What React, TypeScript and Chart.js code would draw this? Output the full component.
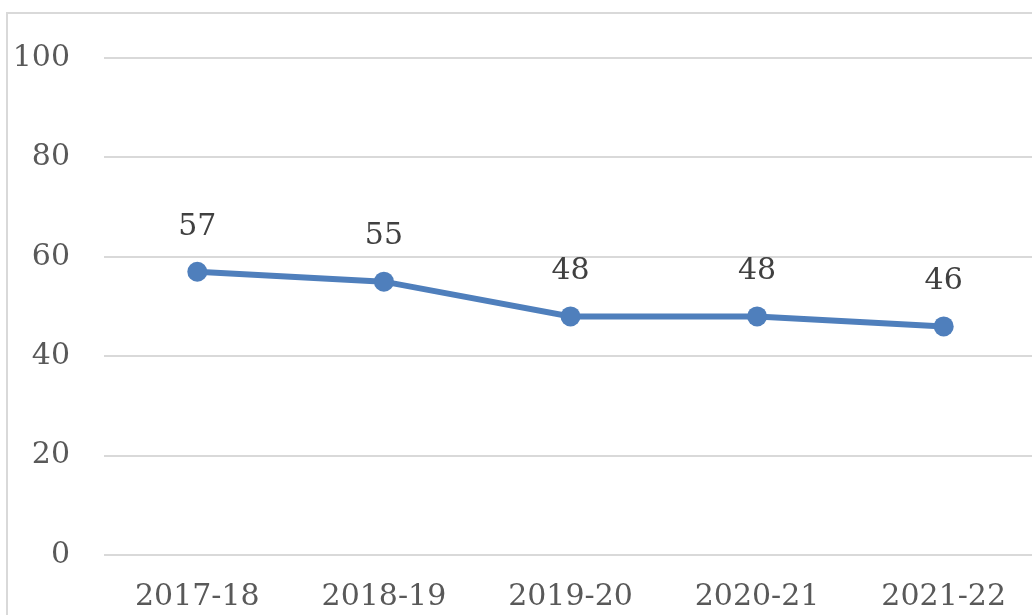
import React, { useEffect, useRef } from "react";
import { Chart, registerables } from "chart.js";

Chart.register(...registerables);

const categories = ["2017-18", "2018-19", "2019-20", "2020-21", "2021-22"];
const values = [57, 55, 48, 48, 46];
const yTicks = [0, 20, 40, 60, 80, 100];

const FONT = "'DejaVu Serif', serif";

const labelPlugin = {
  id: "valueLabels",
  afterDatasetsDraw(chart: any) {
    const ctx = chart.ctx;
    const meta = chart.getDatasetMeta(0);
    ctx.save();
    ctx.font = `30px ${FONT}`;
    ctx.fillStyle = "#404040";
    ctx.textAlign = "center";
    ctx.textBaseline = "middle";
    meta.data.forEach((pt: any, i: number) => {
      ctx.fillText(String(values[i]), pt.x, pt.y - 45);
    });
    ctx.restore();
  },
};

export default function App() {
  const ref = useRef<HTMLCanvasElement | null>(null);
  useEffect(() => {
    if (!ref.current) return;
    const chart = new Chart(ref.current, {
      type: "line",
      data: {
        labels: categories,
        datasets: [
          {
            data: values,
            borderColor: "#4f7fbc",
            backgroundColor: "#4f7fbc",
            borderWidth: 6,
            pointRadius: 10,
            pointHoverRadius: 10,
            pointBackgroundColor: "#4f7fbc",
            pointBorderWidth: 0,
            tension: 0,
          },
        ],
      },
      options: {
        responsive: false,
        animation: false,
        layout: { padding: { left: 0, top: 44, right: 37, bottom: 0 } },
        plugins: { legend: { display: false }, tooltip: { enabled: false } },
        scales: {
          x: {
            offset: true,
            grid: { display: false, drawTicks: false },
            border: { display: false },
            ticks: { color: "#595959", font: { family: FONT, size: 30 }, padding: 24, maxRotation: 0 },
            afterFit: (s: any) => {
              s.height = 105;
              s.paddingLeft = 0;
              s.paddingRight = 0;
            },
          },
          y: {
            min: 0,
            max: 100,
            afterBuildTicks: (s: any) => {
              s.ticks = yTicks.map((v) => ({ value: v }));
            },
            grid: { color: "#d9d9d9", lineWidth: 2, drawTicks: false },
            border: { display: false },
            ticks: { color: "#595959", font: { family: FONT, size: 30 }, padding: 34 },
            afterFit: (s: any) => {
              s.width = 96;
              s.paddingTop = 0;
              s.paddingBottom = 0;
            },
          },
        },
      },
      plugins: [labelPlugin],
    });
    return () => chart.destroy();
  }, []);
  return (
    <div style={{ position: "fixed", left: 0, top: 0, width: 1032, height: 615, overflow: "hidden", background: "#fff" }}>
      <div
        style={{
          position: "absolute",
          left: 6,
          top: 12,
          width: 1070,
          height: 650,
          border: "2px solid #d9d9d9",
          boxSizing: "border-box",
        }}
      >
        <canvas ref={ref} width={1066} height={646} style={{ display: "block" }} />
      </div>
    </div>
  );
}
